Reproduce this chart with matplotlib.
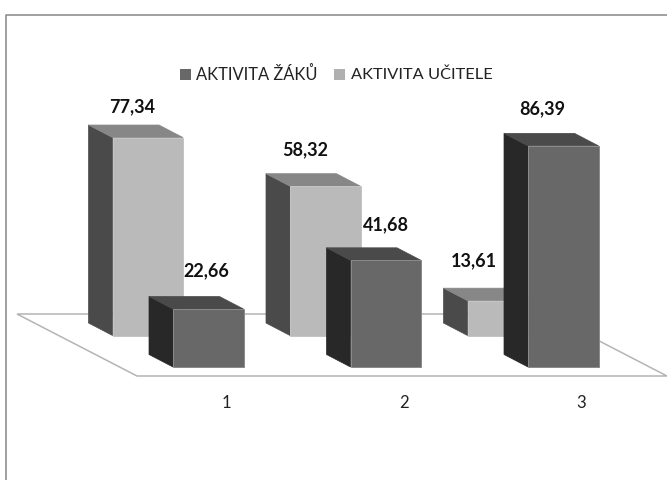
import matplotlib
matplotlib.use("Agg")
import matplotlib.pyplot as plt
from matplotlib.patches import Polygon, Rectangle

# Data
categories = ["1", "2", "3"]
aktivita_zaku = [22.66, 41.68, 86.39]
aktivita_ucitele = [77.34, 58.32, 13.61]
series_names = ["AKTIVITA ŽÁKŮ", "AKTIVITA UČITELE"]

# Colours: front, top, side, edge
DARK = ("#686868", "#4a4a4a", "#282828", "#8a8a8a")
LIGHT = ("#bababa", "#878787", "#4a4a4a", "#c4c4c4")

# Scene geometry in pixels
PX_PER_UNIT = 2.56
CAT_STEP = 177.5
BAR_W = 70.5
DX, DY = 24, 12.5
LIGHT_X0, LIGHT_BASE = 112.5, 335.5
DARK_X0, DARK_BASE = 173.0, 367.0


def draw_bar(ax, x, base, value, colors, z):
    top = base - value * PX_PER_UNIT
    front, roof, side, edge = colors
    ax.add_patch(Polygon([(x - DX, top - DY), (x, top), (x, base), (x - DX, base - DY)],
                         fc=side, ec=side, lw=0.5, zorder=z))
    ax.add_patch(Polygon([(x - DX, top - DY), (x + BAR_W - DX, top - DY), (x + BAR_W, top), (x, top)],
                         fc=roof, ec=roof, lw=0.5, zorder=z))
    ax.add_patch(Rectangle((x, top), BAR_W, base - top, fc=front, ec=edge, lw=0.7, zorder=z))
    return top


fig = plt.figure(figsize=(6.67, 4.8), dpi=100)
ax = fig.add_axes([0, 0, 1, 1])
ax.set_xlim(0, 667)
ax.set_ylim(480, 0)
ax.axis("off")
plt.rcParams["font.family"] = ["Lato", "DejaVu Sans"]

# Chart frame
ax.plot([6, 6, 667], [480, 14.5, 14.5], color="#909090", lw=1.2, zorder=1)

# Floor
ax.add_patch(Polygon([(17, 314), (547, 314), (667, 376), (137, 376)],
                     fc="white", ec="#b4b4b4", lw=1.1, zorder=2))

label_dx_light = [-16, -20, -29]
label_dy_light = [-31, -36, -40]
label_dx_dark = [-1.5, 0.5, -21]
label_dy_dark = [-38, -36, -37]

for i, cat in enumerate(categories):
    x_l = LIGHT_X0 + CAT_STEP * i
    x_d = DARK_X0 + CAT_STEP * i
    top_l = draw_bar(ax, x_l, LIGHT_BASE, aktivita_ucitele[i], LIGHT, 3 + i)
    top_d = draw_bar(ax, x_d, DARK_BASE, aktivita_zaku[i], DARK, 3.5 + i)

    # Values use a decimal comma
    ax.text(x_l + BAR_W / 2 + label_dx_light[i], top_l + label_dy_light[i],
            f"{aktivita_ucitele[i]:.2f}".replace(".", ","), fontsize=13, fontweight="bold",
            ha="center", va="center", color="#111111", zorder=10)
    ax.text(x_d + BAR_W / 2 + label_dx_dark[i], top_d + label_dy_dark[i],
            f"{aktivita_zaku[i]:.2f}".replace(".", ","), fontsize=13, fontweight="bold",
            ha="center", va="center", color="#111111", zorder=10)

    ax.text(x_d + BAR_W / 2 + 18, 403, cat, fontsize=12, ha="center", va="center", color="#222222")

# Legend
ax.add_patch(Rectangle((180, 69), 11, 11, fc=DARK[0], ec="none"))
ax.text(196, 74.5, series_names[0], fontsize=11.9, ha="left", va="center", color="#222222")
ax.add_patch(Rectangle((334, 69), 11, 11, fc="#b0b0b0", ec="none"))
ax.text(351, 74.5, series_names[1], fontsize=11.8, ha="left", va="center", color="#222222")

fig.savefig("out.png", dpi=100)
